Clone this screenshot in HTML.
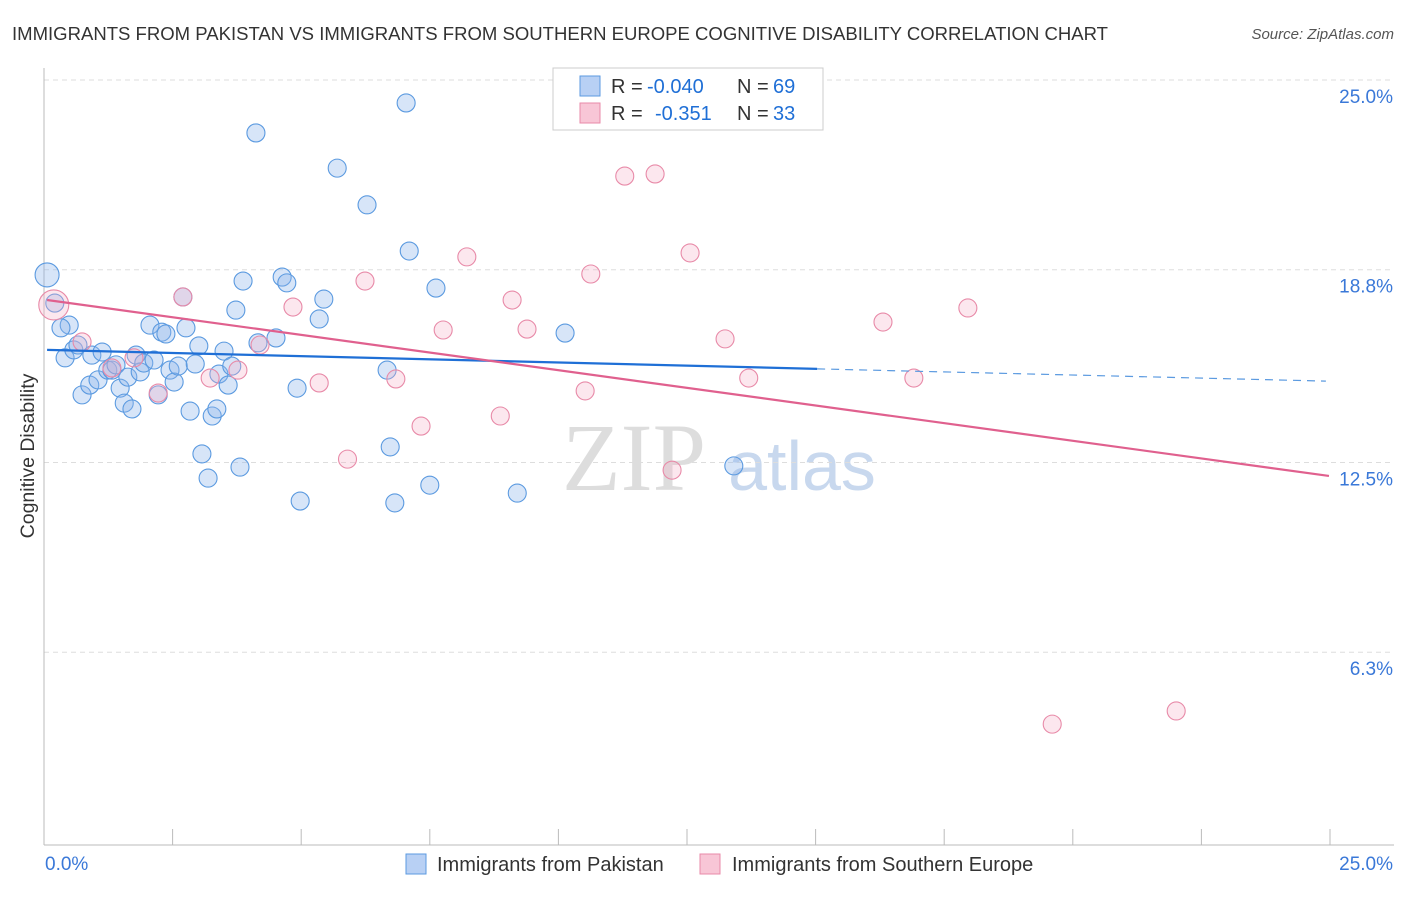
<!DOCTYPE html>
<html><head><meta charset="utf-8"><style>
body{margin:0;background:#fff;font-family:"Liberation Sans",sans-serif}
</style></head><body>
<svg id="chart" width="1406" height="892" xmlns="http://www.w3.org/2000/svg" font-family="Liberation Sans, sans-serif">
<text x="12" y="40" font-size="18.5" fill="#333" textLength="1096" lengthAdjust="spacingAndGlyphs">IMMIGRANTS FROM PAKISTAN VS IMMIGRANTS FROM SOUTHERN EUROPE COGNITIVE DISABILITY CORRELATION CHART</text>
<text x="1394" y="39" font-size="15" fill="#555" font-style="italic" text-anchor="end">Source: ZipAtlas.com</text>
<text x="634" y="490" font-size="96" fill="#ddd" font-family="Liberation Serif, serif" text-anchor="middle">ZIP</text>
<text x="802" y="490" font-size="70" fill="#c8d8ee" text-anchor="middle">atlas</text>
<g id="grid"></g><g id="axes"></g><g id="marks"></g><g id="trends"></g>
<text x="34" y="456" font-size="19.5" fill="#333" text-anchor="middle" transform="rotate(-90 34 456)">Cognitive Disability</text>
<g>
<rect x="553" y="68" width="270" height="62" fill="#fff" stroke="#ccc"/>
<rect x="580" y="76" width="20" height="20" fill="#b8d0f4" stroke="#5b9ae0"/>
<rect x="580" y="103" width="20" height="20" fill="#f8c6d6" stroke="#e88aa8"/>
<text x="611" y="93" font-size="20" fill="#333">R =</text>
<text x="647" y="93" font-size="20" fill="#1f6fd6">-0.040</text>
<text x="737" y="93" font-size="20" fill="#333">N =</text>
<text x="773" y="93" font-size="20" fill="#1f6fd6">69</text>
<text x="611" y="120" font-size="20" fill="#333">R =</text>
<text x="655" y="120" font-size="20" fill="#1f6fd6">-0.351</text>
<text x="737" y="120" font-size="20" fill="#333">N =</text>
<text x="773" y="120" font-size="20" fill="#1f6fd6">33</text>
</g>
<g>
<rect x="406" y="854" width="20" height="20" fill="#b8d0f4" stroke="#5b9ae0"/>
<text x="437" y="871" font-size="20" fill="#333">Immigrants from Pakistan</text>
<rect x="700" y="854" width="20" height="20" fill="#f8c6d6" stroke="#e88aa8"/>
<text x="732" y="871" font-size="20" fill="#333">Immigrants from Southern Europe</text>
</g>
</svg>
<script>
const yTicks=[25.0,18.8,12.5,6.3];
const yTickLabels=["25.0%","18.8%","12.5%","6.3%"];
const xTickLabels=["0.0%","25.0%"];
const blueX=[0.06,0.21,0.49,0.33,0.41,0.58,0.66,0.93,0.74,0.89,1.05,1.13,1.24,1.32,1.40,1.48,1.56,1.63,1.71,1.79,1.87,1.94,2.06,2.14,2.22,2.29,2.37,2.45,2.53,2.61,2.70,2.76,2.84,2.94,3.01,3.07,3.19,3.27,3.36,3.40,3.50,3.58,3.65,3.73,3.81,3.87,4.12,4.16,4.51,4.63,4.72,4.92,4.98,5.35,5.44,5.70,6.28,6.67,6.73,6.82,7.04,7.10,7.50,7.62,9.20,10.13,13.41];
const blueY=[18.63,17.71,16.99,16.90,15.92,16.18,16.34,16.01,14.71,15.03,15.20,16.11,15.52,15.52,15.69,14.93,14.44,15.29,14.25,16.01,15.46,15.75,16.99,15.85,14.71,16.76,16.70,15.52,15.13,15.65,17.91,16.90,14.18,15.72,16.31,12.78,11.99,14.02,14.25,15.39,16.14,15.03,15.65,17.48,12.35,18.43,23.27,16.41,16.57,18.56,18.37,14.93,11.24,17.19,17.84,22.12,20.92,15.52,13.01,11.18,24.25,19.41,11.76,18.20,11.50,16.73,12.39];
const pinkX=[0.19,0.74,1.32,1.75,2.22,2.70,3.23,3.77,4.20,4.84,5.35,5.90,6.24,6.84,7.33,7.76,8.22,8.87,9.10,9.39,10.52,10.63,11.29,11.88,12.21,12.56,13.24,13.70,16.31,16.91,17.96,19.60,22.01];
const pinkY=[17.65,16.44,15.59,15.92,14.77,17.91,15.26,15.52,16.34,17.58,15.10,12.61,18.43,15.23,13.69,16.83,19.22,14.02,17.81,16.86,14.84,18.66,21.86,21.93,12.25,19.35,16.54,15.26,17.09,15.26,17.55,3.95,4.38];
const blueTrend=[[0.06,16.18],[15.03,15.56],[24.92,15.16]];
const pinkTrend=[[0.06,17.81],[24.98,12.06]];
const X=v=>44+v*51.44, Y=v=>845-v*30.6;
const NS="http://www.w3.org/2000/svg";
function mk(tag,attrs,parent){const e=document.createElementNS(NS,tag);for(const k in attrs)e.setAttribute(k,attrs[k]);document.getElementById(parent).appendChild(e);return e;}
yTicks.forEach((t,i)=>{
 const g=mk('line',{x1:44,x2:1394,y1:Y(t),y2:Y(t),stroke:'#ddd','stroke-dasharray':'5,4'},'grid');
 
 
 const l=mk('text',{x:1393,y:Y(t)+23,'font-size':19,fill:'#3a78d8','text-anchor':'end'},'axes');
 l.textContent=yTickLabels[i];
 
 
});
const ax=mk('line',{x1:44,x2:1394,y1:845,y2:845,stroke:'#bbb'},'axes');


const ay=mk('line',{x1:44,x2:44,y1:68,y2:845,stroke:'#bbb'},'axes');


for(let i=0;i<=10;i++){const t=mk('line',{x1:X(i*2.5),x2:X(i*2.5),y1:829,y2:845,stroke:'#bbb'},'axes');
 
 }
const xl0=mk('text',{x:45,y:870,'font-size':19,fill:'#3a78d8'},'axes');xl0.textContent=xTickLabels[0];


const xl1=mk('text',{x:1393,y:870,'font-size':19,fill:'#3a78d8','text-anchor':'end'},'axes');xl1.textContent=xTickLabels[1];


blueX.forEach((x,i)=>{const c=mk('circle',{cx:X(x),cy:Y(blueY[i]),r:i===0?12:9,fill:'rgba(140,180,235,0.35)',stroke:'#5b9ae0','stroke-width':1.1},'marks');
 
 });
pinkX.forEach((x,i)=>{const c=mk('circle',{cx:X(x),cy:Y(pinkY[i]),r:i===0?15:9,fill:'rgba(244,175,198,0.3)',stroke:'#e88aa8','stroke-width':1.1},'marks');
 
 });
const b1=mk('line',{x1:X(blueTrend[0][0]),y1:Y(blueTrend[0][1]),x2:X(blueTrend[1][0]),y2:Y(blueTrend[1][1]),stroke:'#1f6fd6','stroke-width':2.2},'trends');


const b2=mk('line',{x1:X(blueTrend[1][0]),y1:Y(blueTrend[1][1]),x2:X(blueTrend[2][0]),y2:Y(blueTrend[2][1]),stroke:'#5b9ae0','stroke-width':1.2,'stroke-dasharray':'8,6'},'trends');


const p1=mk('line',{x1:X(pinkTrend[0][0]),y1:Y(pinkTrend[0][1]),x2:X(pinkTrend[1][0]),y2:Y(pinkTrend[1][1]),stroke:'#e0608e','stroke-width':2.2},'trends');


</script>
</body></html>
